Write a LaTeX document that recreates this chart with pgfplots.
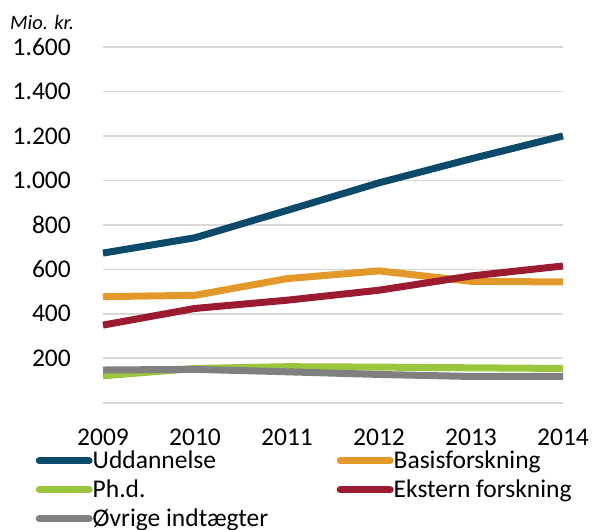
\documentclass[border=0pt]{standalone}
\usepackage{fontspec}
\setmainfont{Carlito}
\usepackage{pgfplots}
\pgfplotsset{compat=1.18}
\definecolor{cBlue}{HTML}{0B4A6A}
\definecolor{cOrange}{HTML}{E3992A}
\definecolor{cGreen}{HTML}{9BC53D}
\definecolor{cRed}{HTML}{9B1B30}
\definecolor{cGrey}{HTML}{808080}
\definecolor{cGrid}{HTML}{D9D9D9}
\begin{document}
\begin{tikzpicture}
\useasboundingbox (-103bp,-127.3bp) rectangle (489bp,402.7bp);
\begin{axis}[
  scale only axis,
  width=460bp, height=355.7bp,
  xmin=0, xmax=5, ymin=0, ymax=1600,
  enlargelimits=false,
  clip=false,
  axis line style={draw=none},
  major tick length=0pt,
  xtick={0,1,2,3,4,5},
  xticklabels={2009,2010,2011,2012,2013,2014},
  ytick={200,400,...,1600},
  extra y ticks={0},
  extra y tick labels={},
  ymajorgrids=true,
  extra y tick style={ymajorgrids=true},
  grid style={cGrid, line width=1.6bp},
  /pgf/number format/.cd, 1000 sep={.}, assume math mode=true,
  /pgfplots/.cd,
  tick label style={font=\fontsize{25.5bp}{30bp}\selectfont, text=black},
  yticklabel style={anchor=east, inner sep=0pt, xshift=-32bp},
  xticklabel style={anchor=north, inner sep=0pt, yshift=-26bp},
  ylabel={\textit{Mio. kr.}},
  ylabel style={rotate=-90, anchor=base west, inner sep=0pt,
    at={(axis description cs:-0.2022,1.0478)}, font=\fontsize{20.5bp}{24bp}\selectfont},
  legend columns=2,
  legend cell align=left,
  legend image code/.code={\draw[#1, line cap=round] (0bp,0bp) -- (50bp,0bp);},
  legend style={draw=none, fill=none, inner sep=0pt, row sep=8bp,
    at={(axis description cs:-0.1467,-0.1335)}, anchor=north west,
    font=\fontsize{25.5bp}{30bp}\selectfont,
    nodes={inner sep=0pt, text height=18bp, text depth=3bp},
    /tikz/every odd column/.append style={column sep=0bp},
    /tikz/every even column/.append style={column sep=68.5bp}},
  every axis plot/.append style={line width=7bp, line join=round},
]
\addplot[cBlue] coordinates {(0,673) (1,742) (2,865) (3,989) (4,1097) (5,1200)};
\addlegendentry{Uddannelse}
\addplot[cOrange] coordinates {(0,477) (1,483) (2,558) (3,593) (4,546) (5,543)};
\addlegendentry{Basisforskning}
\addplot[cGreen] coordinates {(0,121) (1,154) (2,162) (3,160) (4,157) (5,154)};
\addlegendentry{Ph.d.}
\addplot[cRed] coordinates {(0,349) (1,424) (2,461) (3,506) (4,570) (5,615)};
\addlegendentry{Ekstern forskning}
\addplot[cGrey] coordinates {(0,147) (1,150) (2,139) (3,127) (4,118) (5,118)};
\addlegendentry{Øvrige indtægter}
\end{axis}
\end{tikzpicture}
\end{document}
